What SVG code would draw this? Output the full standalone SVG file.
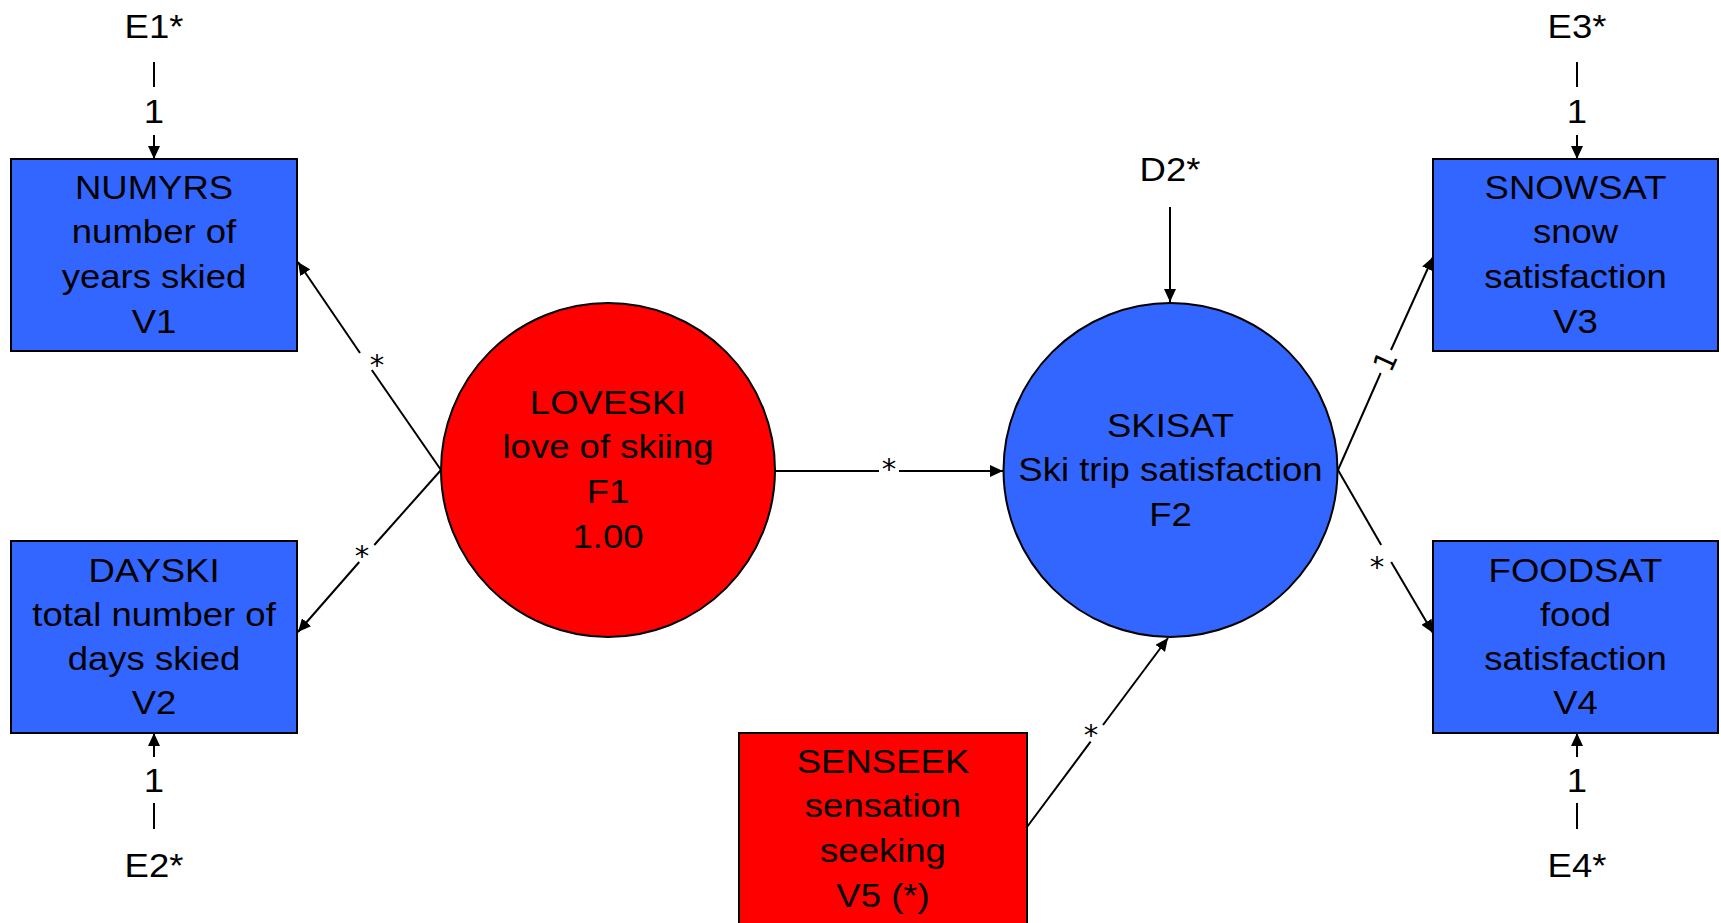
<svg xmlns="http://www.w3.org/2000/svg" width="1721" height="923" viewBox="0 0 1721 923">
<style>
.bg{fill:#ffffff}
.blue{fill:#3366FF;stroke:#000;stroke-width:2}
.red{fill:#FF0000;stroke:#000;stroke-width:2}
.t{font-family:"Liberation Sans",Arial,sans-serif;font-size:32.6px;text-anchor:middle;fill:#000}
.lab{font-family:"DejaVu Sans","Liberation Sans",sans-serif;font-size:29px;text-anchor:middle;fill:#000}
.c{stroke:#000;stroke-width:2;fill:none}
</style>
<defs>
<marker id="ah" markerUnits="userSpaceOnUse" markerWidth="14" markerHeight="12" refX="13" refY="6" orient="auto">
<path d="M0,0 L13,6 L0,12 z" fill="#000"/>
</marker>
</defs>
<rect class="bg" x="0" y="0" width="1721" height="923"/>

<g id="connectors">
<!-- E1 -> V1 -->
<line class="c" x1="154" y1="62" x2="154" y2="87"/>
<line class="c" x1="154" y1="135" x2="154" y2="159" marker-end="url(#ah)"/>
<text class="t" transform="translate(154 0) scale(1.12 1)" x="0" y="123">1</text>
<!-- E2 -> V2 -->
<line class="c" x1="154" y1="829" x2="154" y2="803"/>
<line class="c" x1="154" y1="757" x2="154" y2="733" marker-end="url(#ah)"/>
<text class="t" transform="translate(154 0) scale(1.12 1)" x="0" y="792">1</text>
<!-- E3 -> V3 -->
<line class="c" x1="1577" y1="62" x2="1577" y2="87"/>
<line class="c" x1="1577" y1="135" x2="1577" y2="159" marker-end="url(#ah)"/>
<text class="t" transform="translate(1577 0) scale(1.12 1)" x="0" y="123">1</text>
<!-- E4 -> V4 -->
<line class="c" x1="1577" y1="829" x2="1577" y2="803"/>
<line class="c" x1="1577" y1="757" x2="1577" y2="733" marker-end="url(#ah)"/>
<text class="t" transform="translate(1577 0) scale(1.12 1)" x="0" y="792">1</text>
<!-- D2 -> F2 -->
<line class="c" x1="1170" y1="207" x2="1170" y2="302" marker-end="url(#ah)"/>
<!-- F1 -> V1 -->
<line class="c" x1="441" y1="470" x2="371.8" y2="370"/>
<line class="c" x1="360" y1="353" x2="298" y2="262" marker-end="url(#ah)"/>
<text class="lab" x="377" y="375">*</text>
<!-- F1 -> V2 -->
<line class="c" x1="441" y1="470" x2="374.3" y2="545"/>
<line class="c" x1="359.2" y1="562" x2="298" y2="632" marker-end="url(#ah)"/>
<text class="lab" x="362" y="566">*</text>
<!-- F1 -> F2 -->
<line class="c" x1="775" y1="471" x2="879" y2="471"/>
<line class="c" x1="899" y1="471" x2="1003" y2="471" marker-end="url(#ah)"/>
<text class="lab" x="889" y="479">*</text>
<!-- V5 -> F2 -->
<line class="c" x1="1027" y1="827" x2="1090.6" y2="741.7"/>
<line class="c" x1="1103" y1="725" x2="1168" y2="638" marker-end="url(#ah)"/>
<text class="lab" x="1091" y="745">*</text>
<!-- F2 -> V3 -->
<line class="c" x1="1338" y1="470" x2="1380.7" y2="373"/>
<line class="c" x1="1391" y1="350" x2="1433" y2="257" marker-end="url(#ah)"/>
<text class="lab" transform="translate(1385 361) rotate(-65.7)" x="0" y="10.5">1</text>
<!-- F2 -> V4 -->
<line class="c" x1="1338" y1="470" x2="1381.2" y2="545"/>
<line class="c" x1="1391.2" y1="562" x2="1433" y2="633" marker-end="url(#ah)"/>
<text class="lab" x="1377" y="577">*</text>
</g>

<g id="E1"><text class="t" transform="translate(154 0) scale(1.12 1)" x="0" y="38">E1*</text></g>
<g id="E2"><text class="t" transform="translate(154 0) scale(1.12 1)" x="0" y="877">E2*</text></g>
<g id="E3"><text class="t" transform="translate(1577 0) scale(1.12 1)" x="0" y="38">E3*</text></g>
<g id="E4"><text class="t" transform="translate(1577 0) scale(1.12 1)" x="0" y="877">E4*</text></g>
<g id="D2"><text class="t" transform="translate(1170 0) scale(1.12 1)" x="0" y="181">D2*</text></g>

<g id="V1">
<rect class="blue" x="11" y="159" width="286" height="192"/>
<text class="t" transform="translate(154 0) scale(1.12 1)"><tspan x="0" y="199">NUMYRS</tspan><tspan x="0" y="243">number of</tspan><tspan x="0" y="288">years skied</tspan><tspan x="0" y="333">V1</tspan></text>
</g>
<g id="V2">
<rect class="blue" x="11" y="541" width="286" height="192"/>
<text class="t" transform="translate(154 0) scale(1.12 1)"><tspan x="0" y="582">DAYSKI</tspan><tspan x="0" y="626">total number of</tspan><tspan x="0" y="670">days skied</tspan><tspan x="0" y="714">V2</tspan></text>
</g>
<g id="V3">
<rect class="blue" x="1433" y="159" width="285" height="192"/>
<text class="t" transform="translate(1575.5 0) scale(1.12 1)"><tspan x="0" y="199">SNOWSAT</tspan><tspan x="0" y="243">snow</tspan><tspan x="0" y="288">satisfaction</tspan><tspan x="0" y="333">V3</tspan></text>
</g>
<g id="V4">
<rect class="blue" x="1433" y="541" width="285" height="192"/>
<text class="t" transform="translate(1575.5 0) scale(1.12 1)"><tspan x="0" y="582">FOODSAT</tspan><tspan x="0" y="626">food</tspan><tspan x="0" y="670">satisfaction</tspan><tspan x="0" y="714">V4</tspan></text>
</g>
<g id="V5">
<rect class="red" x="739" y="733" width="288" height="200"/>
<text class="t" transform="translate(883 0) scale(1.12 1)"><tspan x="0" y="773">SENSEEK</tspan><tspan x="0" y="817">sensation</tspan><tspan x="0" y="862">seeking</tspan><tspan x="0" y="907">V5 (*)</tspan></text>
</g>
<g id="F1">
<circle class="red" cx="608" cy="470" r="167"/>
<text class="t" transform="translate(608 0) scale(1.12 1)"><tspan x="0" y="414">LOVESKI</tspan><tspan x="0" y="458.5">love of skiing</tspan><tspan x="0" y="503">F1</tspan><tspan x="0" y="548">1.00</tspan></text>
</g>
<g id="F2">
<circle class="blue" cx="1170.5" cy="470" r="167"/>
<text class="t" transform="translate(1170.5 0) scale(1.12 1)"><tspan x="0" y="437">SKISAT</tspan><tspan x="0" y="481">Ski trip satisfaction</tspan><tspan x="0" y="526">F2</tspan></text>
</g>
</svg>
